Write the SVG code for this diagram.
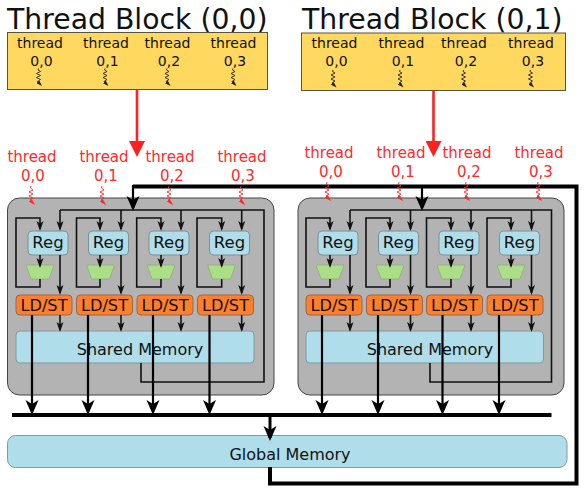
<svg xmlns="http://www.w3.org/2000/svg" width="586" height="491" viewBox="0 0 586 491">
<style>
text{font-family:"DejaVu Sans",sans-serif;text-anchor:middle;fill:#111}
.title{font-size:28.3px;text-anchor:start}
.tb{font-size:14px}
.red{font-size:15px;fill:#ff2a2a}
.block{fill:#ffd95f;stroke:#57533f;stroke-width:1}
.panel{fill:#b3b3b3;stroke:#444;stroke-width:1}
.reg{fill:#afdde9;stroke:#7f8f94;stroke-width:1}
.ld{fill:#ff7f2a;stroke:#8f6a50;stroke-width:1}
.mux{fill:#aade87;stroke:#8fae76;stroke-width:.8}
.mem{fill:#afdde9;stroke:#7f9aa2;stroke-width:1}
.regt{font-size:16.5px}
.ldt{font-size:16.2px}
.memt{font-size:16px}
.w{fill:none;stroke:#111;stroke-width:1.6}
.a{fill:none;stroke:#111;stroke-width:1.6;marker-end:url(#s)}
.m{fill:none;stroke:#000;stroke-width:2.2;marker-end:url(#b)}
.t{fill:none;stroke:#000;stroke-width:4}
.r{fill:none;stroke:#ff2020;stroke-width:2.6;marker-end:url(#rh)}
.sqk{fill:none;stroke:#222;stroke-width:.9}
.sqr{fill:none;stroke:#ff2a2a;stroke-width:.9}
</style>
<defs>
<marker id="s" markerUnits="userSpaceOnUse" markerWidth="10" markerHeight="8" refX="8" refY="4" orient="auto"><path d="M10,4 L0,.5 L2.5,4 L0,7.5Z" fill="#111"/></marker>
<marker id="b" markerUnits="userSpaceOnUse" markerWidth="15" markerHeight="14" refX="12" refY="7" orient="auto"><path d="M15,7 L0,.5 L4,7 L0,13.5Z" fill="#000"/></marker>
<marker id="rh" markerUnits="userSpaceOnUse" markerWidth="16" markerHeight="16" refX="12" refY="8" orient="auto"><path d="M16,8 L0,0 L0,16Z" fill="#ff2020"/></marker>
<marker id="ks" markerUnits="userSpaceOnUse" markerWidth="6" markerHeight="4" refX="1" refY="2" orient="auto"><path d="M6,2 L0,0 L0,4Z" fill="#222"/></marker>
<marker id="rs" markerUnits="userSpaceOnUse" markerWidth="7" markerHeight="4" refX="1" refY="2" orient="auto"><path d="M7,2 L0,0 L0,4Z" fill="#ff2a2a"/></marker>
<path id="zk" class="sqk" marker-end="url(#ks)" d="M0,0 L-.5,1.500 L2,3 L-2,5 L2,7 L-2,9 L2,11 L-1,13 L0,14"/>
<path id="zr" class="sqr" marker-end="url(#rs)" d="M0,0 L-.5,2 L2,4 L-2,6 L2,8 L-2,10 L2,12 L-1,14 L0,15"/>
</defs>
<rect width="586" height="491" fill="#fff"/>

<g id="title-0"><text class="title" x="7" y="28.500">Thread Block (0,0)</text></g>
<g id="title-1"><text class="title" x="302" y="28.500">Thread Block (0,1)</text></g>

<g id="thread-block-0">
<rect class="block" x="7.500" y="32.500" width="260" height="57"/>
<text class="tb" x="40" y="47.500">thread</text><text class="tb" x="41.500" y="65.500">0,0</text>
<text class="tb" x="106" y="47.500">thread</text><text class="tb" x="107.500" y="65.500">0,1</text>
<text class="tb" x="167.500" y="47.500">thread</text><text class="tb" x="169" y="65.500">0,2</text>
<text class="tb" x="233.500" y="47.500">thread</text><text class="tb" x="235" y="65.500">0,3</text>
<use href="#zk" x="38.500" y="68.500"/><use href="#zk" x="105" y="68.500"/><use href="#zk" x="167" y="68.500"/><use href="#zk" x="233" y="68.500"/>
</g>
<g id="thread-block-1">
<rect class="block" x="301.500" y="33" width="264" height="57.500"/>
<text class="tb" x="334.500" y="48">thread</text><text class="tb" x="336.500" y="66">0,0</text>
<text class="tb" x="401.500" y="48">thread</text><text class="tb" x="403" y="66">0,1</text>
<text class="tb" x="464" y="48">thread</text><text class="tb" x="466" y="66">0,2</text>
<text class="tb" x="531" y="48">thread</text><text class="tb" x="533" y="66">0,3</text>
<use href="#zk" x="333" y="70"/><use href="#zk" x="400" y="70"/><use href="#zk" x="463.500" y="70"/><use href="#zk" x="530.500" y="70"/>
</g>

<g id="panel-0">
<rect class="panel" x="7.500" y="198" width="266.500" height="197" rx="12"/>
<g id="p0-c0"><rect class="reg" x="28" y="231" width="40" height="24" rx="4"/><text class="regt" x="48" y="247.500">Reg</text><path class="mux" d="M26,265H54L49,279H31Z"/><rect class="ld" x="16" y="295" width="56" height="20" rx="4"/><text class="ldt" x="44" y="311">LD/ST</text></g>
<g id="p0-c1"><rect class="reg" x="88.500" y="231" width="40" height="24" rx="4"/><text class="regt" x="108.500" y="247.500">Reg</text><path class="mux" d="M86.500,265H114.500L109.500,279H91.500Z"/><rect class="ld" x="76.500" y="295" width="56" height="20" rx="4"/><text class="ldt" x="104.500" y="311">LD/ST</text></g>
<g id="p0-c2"><rect class="reg" x="149" y="231" width="40" height="24" rx="4"/><text class="regt" x="169" y="247.500">Reg</text><path class="mux" d="M147,265H175L170,279H152Z"/><rect class="ld" x="137" y="295" width="56" height="20" rx="4"/><text class="ldt" x="165" y="311">LD/ST</text></g>
<g id="p0-c3"><rect class="reg" x="209.500" y="231" width="40" height="24" rx="4"/><text class="regt" x="229.500" y="247.500">Reg</text><path class="mux" d="M207.500,265H235.500L230.500,279H212.500Z"/><rect class="ld" x="197.500" y="295" width="56" height="20" rx="4"/><text class="ldt" x="225.500" y="311">LD/ST</text></g>
<g id="p0-shared"><rect class="mem" x="16" y="331" width="238" height="32" rx="4"/><text class="memt" x="140" y="355">Shared Memory</text></g>
</g>

<g id="panel-1">
<rect class="panel" x="298" y="198" width="266" height="197" rx="12"/>
<g id="p1-c0"><rect class="reg" x="318" y="231" width="40" height="24" rx="4"/><text class="regt" x="338" y="247.500">Reg</text><path class="mux" d="M316,265H344L339,279H321Z"/><rect class="ld" x="306" y="295" width="56" height="20" rx="4"/><text class="ldt" x="334" y="311">LD/ST</text></g>
<g id="p1-c1"><rect class="reg" x="378.500" y="231" width="40" height="24" rx="4"/><text class="regt" x="398.500" y="247.500">Reg</text><path class="mux" d="M376,265H404L399,279H381Z"/><rect class="ld" x="366.500" y="295" width="56" height="20" rx="4"/><text class="ldt" x="394.500" y="311">LD/ST</text></g>
<g id="p1-c2"><rect class="reg" x="439" y="231" width="40" height="24" rx="4"/><text class="regt" x="459" y="247.500">Reg</text><path class="mux" d="M437,265H465L460,279H442Z"/><rect class="ld" x="426.500" y="295" width="56" height="20" rx="4"/><text class="ldt" x="454.500" y="311">LD/ST</text></g>
<g id="p1-c3"><rect class="reg" x="499.500" y="231" width="40" height="24" rx="4"/><text class="regt" x="519.500" y="247.500">Reg</text><path class="mux" d="M497,265H525L520,279H502Z"/><rect class="ld" x="487" y="295" width="56" height="20" rx="4"/><text class="ldt" x="515" y="311">LD/ST</text></g>
<g id="p1-shared"><rect class="mem" x="306" y="331" width="237.500" height="32" rx="4"/><text class="memt" x="430" y="355">Shared Memory</text></g>
</g>

<g id="global-memory"><rect class="mem" x="7.500" y="435.500" width="559.500" height="32" rx="8"/><text class="memt" x="290" y="460">Global Memory</text></g>

<g id="connectors">
<path class="t" d="M133,186.500H576.500V483.500H270V467"/>
<path class="t" d="M12,415H551.500"/>
<path class="m" d="M133,185V208"/><path class="m" d="M422,185V208"/>
<path class="t" style="stroke-width:3;marker-end:url(#b)" d="M270,415V438"/>
<path class="r" d="M137,89.500V153"/><path class="r" d="M433.500,90.500V153"/>

<path class="w" d="M60,210H264V382H141V363"/>
<path class="w" d="M350,210H551.500V382H430V363"/>

<path class="a" d="M60,210V229"/><path class="a" d="M121,210V229"/><path class="a" d="M181,210V229"/><path class="a" d="M241.700,210V229"/>
<path class="a" d="M350,210V229"/><path class="a" d="M410.500,210V229"/><path class="a" d="M471,210V229"/><path class="a" d="M531.500,210V229"/>

<path class="a" d="M40,279V287H16V218H40V229"/><path class="a" d="M100,279V287H76.500V218H100V229"/><path class="a" d="M161,279V287H136.700V218H161V229"/><path class="a" d="M221.700,279V287H197V218H221.700V229"/>
<path class="a" d="M330,279V287H306V218H330V229"/><path class="a" d="M390,279V287H366V218H390V229"/><path class="a" d="M451,279V287H426.500V218H451V229"/><path class="a" d="M511,279V287H487V218H511V229"/>

<path class="a" d="M40,255V266"/><path class="a" d="M100,255V266"/><path class="a" d="M161,255V266"/><path class="a" d="M221.700,255V266"/>
<path class="a" d="M330,255V266"/><path class="a" d="M390,255V266"/><path class="a" d="M451,255V266"/><path class="a" d="M511,255V266"/>

<path class="a" d="M60,255V293"/><path class="a" d="M121,255V293"/><path class="a" d="M181,255V293"/><path class="a" d="M241.700,255V293"/>
<path class="a" d="M350,255V293"/><path class="a" d="M410.500,255V293"/><path class="a" d="M471,255V293"/><path class="a" d="M531.500,255V293"/>

<path class="a" d="M60,315V330"/><path class="a" d="M121,315V330"/><path class="a" d="M181,315V330"/><path class="a" d="M241.700,315V330"/>
<path class="a" d="M350,315V330"/><path class="a" d="M410.500,315V330"/><path class="a" d="M471,315V330"/><path class="a" d="M531.500,315V330"/>

<path class="m" d="M32,315V412"/><path class="m" d="M88,315V412"/><path class="m" d="M153,315V412"/><path class="m" d="M209.500,315V412"/>
<path class="m" d="M322,315V412"/><path class="m" d="M378,315V412"/><path class="m" d="M442.500,315V412"/><path class="m" d="M499,315V412"/>
</g>

<g id="red-threads-0">
<text class="red" x="32" y="162">thread</text><text class="red" x="33" y="181">0,0</text>
<text class="red" x="104" y="162">thread</text><text class="red" x="106" y="181">0,1</text>
<text class="red" x="170" y="162">thread</text><text class="red" x="172" y="181">0,2</text>
<text class="red" x="242" y="162">thread</text><text class="red" x="243" y="181">0,3</text>
<use href="#zr" x="31" y="186"/><use href="#zr" x="102" y="186"/><use href="#zr" x="169" y="186"/><use href="#zr" x="241" y="186"/>
</g>
<g id="red-threads-1">
<text class="red" x="329" y="158">thread</text><text class="red" x="331" y="177">0,0</text>
<text class="red" x="401" y="158">thread</text><text class="red" x="403" y="177">0,1</text>
<text class="red" x="467" y="158">thread</text><text class="red" x="469" y="177">0,2</text>
<text class="red" x="539" y="158">thread</text><text class="red" x="541" y="177">0,3</text>
<use href="#zr" x="327" y="182"/><use href="#zr" x="399" y="182"/><use href="#zr" x="466" y="182"/><use href="#zr" x="538" y="182"/>
</g>
</svg>
